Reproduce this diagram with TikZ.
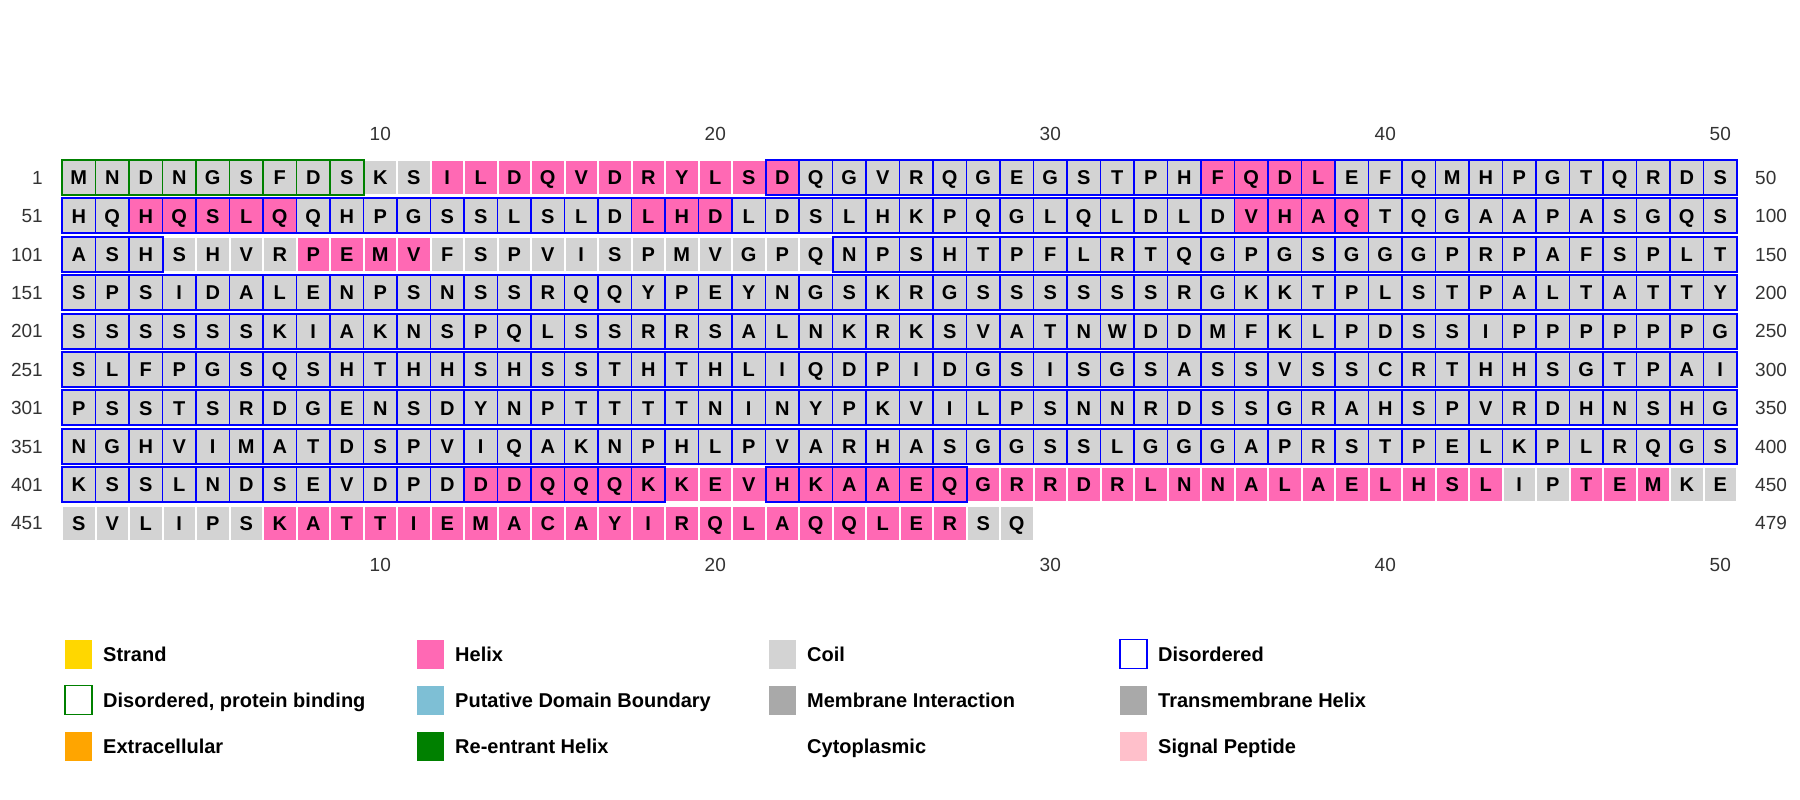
\documentclass[tikz,border=0pt]{standalone}
\usepackage{fontspec}
\setmainfont{Liberation Sans}
\definecolor{coil}{HTML}{D3D3D3}
\definecolor{helix}{HTML}{FF69B4}
\definecolor{dblue}{HTML}{0000FF}
\definecolor{pgreen}{HTML}{008000}
\definecolor{strand}{HTML}{FFD700}
\definecolor{pdb}{HTML}{7EBFD5}
\definecolor{memb}{HTML}{A9A9A9}
\definecolor{extra}{HTML}{FFA500}
\definecolor{sigp}{HTML}{FFC0CB}
\definecolor{numgray}{HTML}{333333}
\tikzset{
 cellbase/.style={inner sep=0pt, outer sep=0pt, text height=14.3pt, text depth=0pt, font=\fontsize{20}{20}\selectfont\bfseries, text=black},
 cellplain/.style={cellbase, minimum width=31.5pt, minimum height=33pt},
 cellblue/.style={cellbase, minimum width=33.5pt, minimum height=35pt, draw=dblue, line width=1.3pt},
 cellgreen/.style={cellbase, minimum width=33.5pt, minimum height=35pt, draw=pgreen, line width=1.3pt},
 spanblue/.style={draw=dblue, line width=2pt},
 spangreen/.style={draw=pgreen, line width=2pt},
 numlab/.style={font=\fontsize{19}{19}\selectfont, text=numgray, inner sep=0pt, text height=13.6pt, text depth=0pt},
 legsq/.style={minimum width=27pt, minimum height=29pt, inner sep=0pt, outer sep=0pt},
 legtxt/.style={font=\fontsize{20}{20}\selectfont\bfseries, anchor=west, inner sep=0pt, text height=14.3pt, text depth=0pt},
}
\newcommand\seqrow[5]{%
  \pgfmathsetmacro\cy{177.5+(#1-1)*38.4}
  \foreach \ch [count=\i] in {#2} {
    \pgfmathtruncatemacro\hx{(#3) ? 1 : 0}
    \pgfmathtruncatemacro\bx{(#4) ? 1 : 0}
    \pgfmathtruncatemacro\gx{(#5) ? 1 : 0}
    \pgfmathsetmacro\cx{78.75+(\i-1)*33.5}
    \ifnum\hx=1 \def\fc{helix}\else\def\fc{coil}\fi
    \ifnum\bx=1 \def\cs{cellblue}\else\ifnum\gx=1 \def\cs{cellgreen}\else\def\cs{cellplain}\fi\fi
    \node[\cs, fill=\fc] (c-#1-\i) at (\cx,\cy) {\ch};
  }
}
\begin{document}
\begin{tikzpicture}[x=1pt,y=-1pt]
\useasboundingbox (0,0) rectangle (1800,800);
\fill[white] (0,0) rectangle (1800,800);
% sequence rows
\seqrow{1}{M,N,D,N,G,S,F,D,S,K,S,I,L,D,Q,V,D,R,Y,L,S,D,Q,G,V,R,Q,G,E,G,S,T,P,H,F,Q,D,L,E,F,Q,M,H,P,G,T,Q,R,D,S}{(\i>=12 && \i<=22) || (\i>=35 && \i<=38)}{\i>=22}{\i<=9}
\seqrow{2}{H,Q,H,Q,S,L,Q,Q,H,P,G,S,S,L,S,L,D,L,H,D,L,D,S,L,H,K,P,Q,G,L,Q,L,D,L,D,V,H,A,Q,T,Q,G,A,A,P,A,S,G,Q,S}{(\i>=3 && \i<=7) || (\i>=18 && \i<=20) || (\i>=36 && \i<=39)}{1}{0}
\seqrow{3}{A,S,H,S,H,V,R,P,E,M,V,F,S,P,V,I,S,P,M,V,G,P,Q,N,P,S,H,T,P,F,L,R,T,Q,G,P,G,S,G,G,G,P,R,P,A,F,S,P,L,T}{(\i>=8 && \i<=11)}{(\i<=3) || (\i>=24)}{0}
\seqrow{4}{S,P,S,I,D,A,L,E,N,P,S,N,S,S,R,Q,Q,Y,P,E,Y,N,G,S,K,R,G,S,S,S,S,S,S,R,G,K,K,T,P,L,S,T,P,A,L,T,A,T,T,Y}{0}{1}{0}
\seqrow{5}{S,S,S,S,S,S,K,I,A,K,N,S,P,Q,L,S,S,R,R,S,A,L,N,K,R,K,S,V,A,T,N,W,D,D,M,F,K,L,P,D,S,S,I,P,P,P,P,P,P,G}{0}{1}{0}
\seqrow{6}{S,L,F,P,G,S,Q,S,H,T,H,H,S,H,S,S,T,H,T,H,L,I,Q,D,P,I,D,G,S,I,S,G,S,A,S,S,V,S,S,C,R,T,H,H,S,G,T,P,A,I}{0}{1}{0}
\seqrow{7}{P,S,S,T,S,R,D,G,E,N,S,D,Y,N,P,T,T,T,T,N,I,N,Y,P,K,V,I,L,P,S,N,N,R,D,S,S,G,R,A,H,S,P,V,R,D,H,N,S,H,G}{0}{1}{0}
\seqrow{8}{N,G,H,V,I,M,A,T,D,S,P,V,I,Q,A,K,N,P,H,L,P,V,A,R,H,A,S,G,G,S,S,L,G,G,G,A,P,R,S,T,P,E,L,K,P,L,R,Q,G,S}{0}{1}{0}
\seqrow{9}{K,S,S,L,N,D,S,E,V,D,P,D,D,D,Q,Q,Q,K,K,E,V,H,K,A,A,E,Q,G,R,R,D,R,L,N,N,A,L,A,E,L,H,S,L,I,P,T,E,M,K,E}{(\i>=13 && \i<=43) || (\i>=46 && \i<=48)}{(\i<=18) || (\i>=22 && \i<=27)}{0}
\seqrow{10}{S,V,L,I,P,S,K,A,T,T,I,E,M,A,C,A,Y,I,R,Q,L,A,Q,Q,L,E,R,S,Q}{(\i>=7 && \i<=27)}{0}{0}
% region outlines
\draw[spangreen] (c-1-1.north west) rectangle (c-1-9.south east);
\draw[spanblue] (c-1-22.north west) rectangle (c-1-50.south east);
\foreach \r in {2,4,5,6,7,8} {
  \draw[spanblue] (c-\r-1.north west) rectangle (c-\r-50.south east);
}
\draw[spanblue] (c-3-1.north west) rectangle (c-3-3.south east);
\draw[spanblue] (c-3-24.north west) rectangle (c-3-50.south east);
\draw[spanblue] (c-9-1.north west) rectangle (c-9-18.south east);
\draw[spanblue] (c-9-22.north west) rectangle (c-9-27.south east);
% row numbers
\foreach \r/\l/\rr in {1/1/50,2/51/100,3/101/150,4/151/200,5/201/250,6/251/300,7/301/350,8/351/400,9/401/450,10/451/479} {
  \pgfmathsetmacro\ry{177.5+(\r-1)*38.4}
  \node[numlab, anchor=east] (rl-\r) at (43,\ry) {\l};
  \node[numlab, anchor=west] (rr-\r) at (1755,\ry) {\rr};
}
% column axis
\foreach \k in {10,20,30,40,50} {
  \pgfmathsetmacro\ax{78.75+(\k-1)*33.5}
  \node[numlab] (top-\k) at (\ax,134) {\k};
  \node[numlab] (bot-\k) at (\ax,565) {\k};
}
% legend
\foreach \cx/\ry/\col/\txt [count=\n] in {
  65/654/strand/Strand,
  417/654/helix/Helix,
  769/654/coil/Coil,
  65/746/extra/Extracellular,
  417/700/pdb/Putative Domain Boundary,
  769/700/memb/Membrane Interaction,
  1120/700/memb/Transmembrane Helix,
  417/746/pgreen/Re-entrant Helix,
  1120/746/sigp/Signal Peptide} {
  \node[legsq, fill=\col] (lsq-\n) at (\cx+13.5,\ry) {};
  \node[legtxt] (ltx-\n) at (\cx+38,\ry) {\txt};
}
\node[legsq, draw=dblue, line width=1.8pt, fill=white] (lsq-dis) at (1133.5,654) {};
\node[legtxt] (ltx-dis) at (1158,654) {Disordered};
\node[legsq, draw=pgreen, line width=1.8pt, fill=white] (lsq-dpb) at (78.5,700) {};
\node[legtxt] (ltx-dpb) at (103,700) {Disordered, protein binding};
\node[legtxt] (ltx-cyto) at (807,746) {Cytoplasmic};
\end{tikzpicture}
\end{document}
